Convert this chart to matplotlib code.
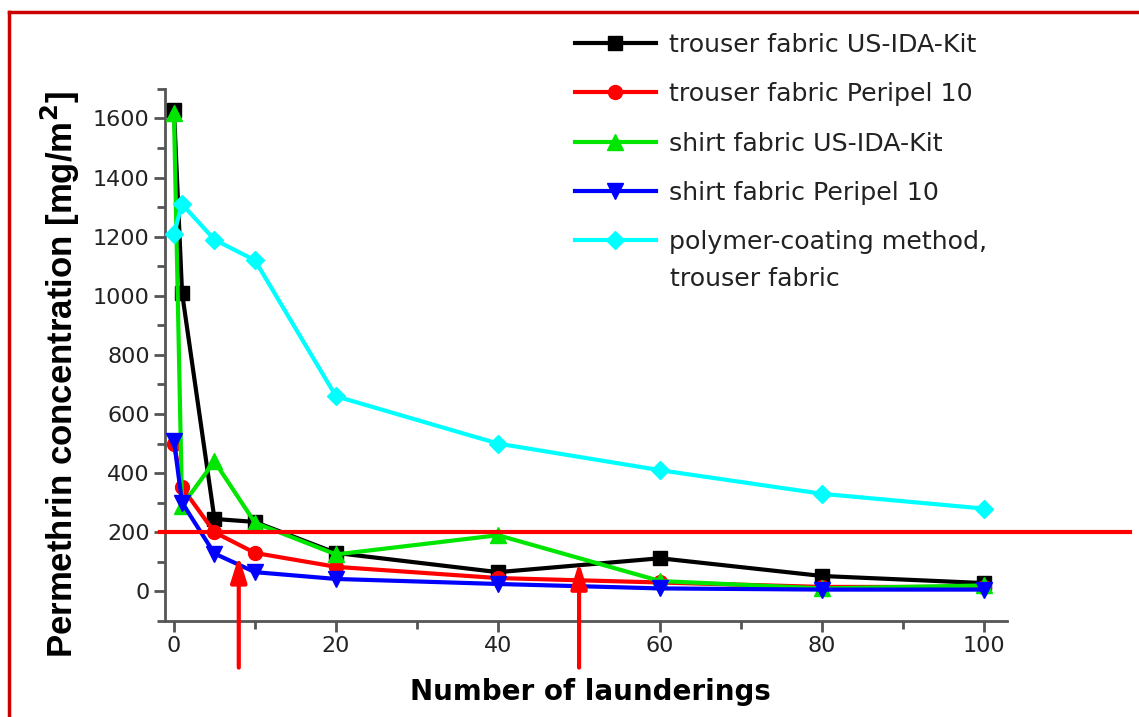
import matplotlib
matplotlib.use("Agg")
import matplotlib.pyplot as plt
from matplotlib.lines import Line2D

plt.rcParams['font.family'] = ['DejaVu Sans']
plt.rcParams['mathtext.fontset'] = 'dejavusans'

launderings = [0, 1, 5, 10, 20, 40, 60, 80, 100]
trouser_usida = [1630, 1010, 245, 235, 130, 65, 112, 52, 28]
trouser_peripel = [500, 352, 200, 130, 83, 45, 30, 15, 15]
shirt_usida = [1620, 290, 440, 232, 125, 190, 35, 10, 20]
shirt_peripel = [510, 300, 128, 65, 42, 25, 10, 6, 6]
polymer_trouser = [1210, 1310, 1190, 1120, 660, 500, 410, 330, 280]

labels = ["trouser fabric US-IDA-Kit", "trouser fabric Peripel 10",
          "shirt fabric US-IDA-Kit", "shirt fabric Peripel 10",
          "polymer-coating method,"]
label_continuation = "trouser fabric"
colors = ["#000000", "#ff0000", "#00e600", "#0000ff", "#00ffff"]
markers = ["s", "o", "^", "v", "D"]
msizes = [10, 10, 11, 11, 9]
threshold = 200
arrow_x = [8, 50]
arrow_tip = [119, 98]

fig = plt.figure(figsize=(11.39, 7.17), dpi=100)
ax = fig.add_axes([0.1449, 0.134, 0.884 - 0.1449, 0.876 - 0.134])

series = [trouser_usida, trouser_peripel, shirt_usida, shirt_peripel, polymer_trouser]
handles = []
for vals, c, m, ms, lab in zip(series, colors, markers, msizes, labels):
    h, = ax.plot(launderings, vals, color=c, marker=m, markersize=ms, lw=3,
                 markeredgecolor=c, label=lab, clip_on=False, zorder=3)
    handles.append(h)

ax.set_xlim(-1.1, 102.8)
ax.set_ylim(-100, 1700)
ax.set_xticks([0, 20, 40, 60, 80, 100])
ax.set_xticks([10, 30, 50, 70, 90], minor=True)
ax.set_yticks([0, 200, 400, 600, 800, 1000, 1200, 1400, 1600])
ax.set_yticks([-100, 100, 300, 500, 700, 900, 1100, 1300, 1500, 1700], minor=True)

for s in ['top', 'right']:
    ax.spines[s].set_visible(False)
for s in ['left', 'bottom']:
    ax.spines[s].set_color('#555555')
    ax.spines[s].set_linewidth(2)
ax.tick_params(axis='both', which='major', length=8, width=2, color='#555555',
               labelsize=16, labelcolor='#222222', direction='out', pad=3)
ax.tick_params(axis='both', which='minor', length=6, width=2, color='#555555',
               direction='out')

ax.set_xlabel("Number of launderings", fontsize=20, fontweight='bold')
ax.xaxis.set_label_coords(0.505, -0.108)
ax.set_ylabel("Permethrin concentration [mg/m$^\\mathbf{2}$]", fontsize=25,
              fontweight='bold', family='Liberation Sans')
ax.yaxis.set_label_coords(-0.099, 0.462)

# threshold line extending beyond axes
ax.axhline(threshold, xmin=-0.006, xmax=1.146, color='#ff0000', lw=3, clip_on=False, zorder=4)

for xa, tip in zip(arrow_x, arrow_tip):
    ax.annotate("", xy=(xa, tip), xytext=(xa, -258),
                arrowprops=dict(arrowstyle='-|>,head_width=0.22,head_length=0.7',
                                color='#ff0000', lw=3,
                                mutation_scale=22, shrinkA=0, shrinkB=0),
                annotation_clip=False, zorder=5)

leg = ax.legend(handles=handles, loc='upper left',
                bbox_to_anchor=(575 / 1139, 1 - 33 / 717), bbox_transform=fig.transFigure,
                frameon=False, fontsize=18.2, handlelength=3.2, handletextpad=0.52,
                labelspacing=1.0, borderaxespad=0, borderpad=0)
for t in leg.get_texts():
    t.set_color('#222222')

fig.text(670 / 1139, 1 - 277 / 717, label_continuation, fontsize=18.2, color='#222222',
         ha='left', va='center_baseline')

# red frame
fig.add_artist(Line2D([9 / 1139, 9 / 1139], [0, 1 - 12 / 717], color='#cc0000', lw=2.5,
                      transform=fig.transFigure))
fig.add_artist(Line2D([9 / 1139, 1], [1 - 12 / 717, 1 - 12 / 717], color='#cc0000', lw=2.5,
                      transform=fig.transFigure))

fig.savefig("out.png", dpi=100)
